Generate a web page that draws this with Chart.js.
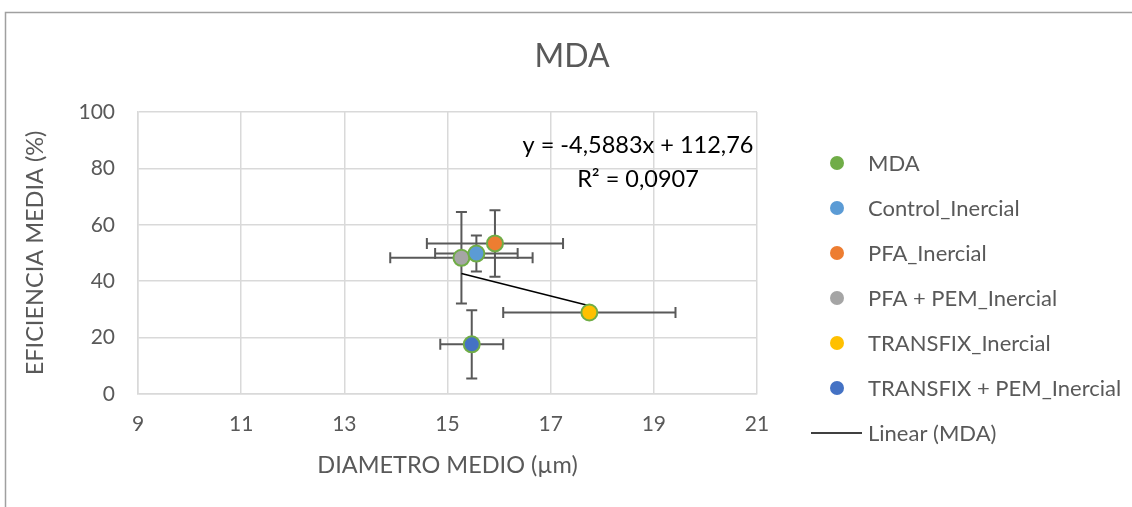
<!DOCTYPE html>
<html>
<head>
<meta charset="utf-8">
<script src="https://cdn.jsdelivr.net/npm/chart.js@4.4.0/dist/chart.umd.min.js"></script>
<style>
  html, body { margin: 0; padding: 0; background: #fff; }
  #wrap { width: 1132px; height: 507px; position: relative; }
</style>
</head>
<body>
<div id="wrap"><canvas id="mdaChart" width="1132" height="507"></canvas></div>
<script>
  // Data
  const seriesName = 'MDA';
  const categories = ['Control_Inercial', 'PFA_Inercial', 'PFA + PEM_Inercial', 'TRANSFIX_Inercial', 'TRANSFIX + PEM_Inercial'];
  const diameter = [15.56, 15.92, 15.27, 17.75, 15.47];
  const efficiency = [49.8, 53.4, 48.3, 28.9, 17.6];
  const diameterErr = [0.80, 1.32, 1.38, 1.67, 0.61];
  const efficiencyErr = [6.4, 11.8, 16.2, 0, 12.1];
  const trendX = [15.27, 17.75];
  const trendY = [42.7, 31.3];
  const trendText = ['y = -4,5883x + 112,76', 'R² = 0,0907'];
  const xTicks = [9, 11, 13, 15, 17, 19, 21];
  const yTicks = [0, 20, 40, 60, 80, 100];

  const colors = ['#5B9BD5', '#ED7D31', '#A5A5A5', '#FFC000', '#4472C4'];
  const green = '#70AD47';
  const textColor = '#595959';
  const font = 'Lato';

  const datasets = categories.map((name, i) => ({
    type: 'scatter',
    label: name,
    data: [{ x: diameter[i], y: efficiency[i] }],
    backgroundColor: colors[i],
    borderColor: green,
    borderWidth: 2,
    pointRadius: 8,
    pointHoverRadius: 8,
    order: i
  }));
  datasets.push({
    type: 'line',
    label: 'Linear (MDA)',
    data: trendX.map((x, i) => ({ x: x, y: trendY[i] })),
    borderColor: '#000',
    borderWidth: 1.5,
    pointRadius: 0,
    fill: false,
    order: 20
  });

  // frame, title, error bars, trend label and legend
  const extras = {
    id: 'extras',
    beforeDraw(chart) {
      const c = chart.ctx;
      c.save();
      c.strokeStyle = '#a0a0a0';
      c.lineWidth = 1.5;
      c.beginPath();
      c.moveTo(5.5, 507);
      c.lineTo(5.5, 12.5);
      c.lineTo(1132, 12.5);
      c.stroke();
      c.fillStyle = textColor;
      c.font = '32px ' + font;
      c.textAlign = 'center';
      c.textBaseline = 'middle';
      c.fillText(seriesName, 572, 57);
      c.restore();
    },
    beforeDatasetsDraw(chart) {
      const c = chart.ctx;
      const xs = chart.scales.x, ys = chart.scales.y;
      const cap = 5.5;
      c.save();
      c.strokeStyle = '#595959';
      c.lineWidth = 2;
      categories.forEach((_, i) => {
        const px = xs.getPixelForValue(diameter[i]);
        const py = ys.getPixelForValue(efficiency[i]);
        if (diameterErr[i] > 0) {
          const l = xs.getPixelForValue(diameter[i] - diameterErr[i]);
          const r = xs.getPixelForValue(diameter[i] + diameterErr[i]);
          c.beginPath();
          c.moveTo(l, py); c.lineTo(r, py);
          c.moveTo(l, py - cap); c.lineTo(l, py + cap);
          c.moveTo(r, py - cap); c.lineTo(r, py + cap);
          c.stroke();
        }
        if (efficiencyErr[i] > 0) {
          const t = ys.getPixelForValue(efficiency[i] + efficiencyErr[i]);
          const b = ys.getPixelForValue(efficiency[i] - efficiencyErr[i]);
          c.beginPath();
          c.moveTo(px, t); c.lineTo(px, b);
          c.moveTo(px - cap, t); c.lineTo(px + cap, t);
          c.moveTo(px - cap, b); c.lineTo(px + cap, b);
          c.stroke();
        }
      });
      c.restore();
    },
    afterDraw(chart) {
      const c = chart.ctx;
      c.save();
      c.fillStyle = '#000';
      c.font = '23.5px ' + font;
      c.textAlign = 'center';
      c.textBaseline = 'middle';
      c.fillText(trendText[0], 638, 145);
      c.fillText(trendText[1], 638, 179);

      // legend
      const items = [{ label: seriesName, color: green }]
        .concat(categories.map((n, i) => ({ label: n, color: colors[i] })));
      c.font = '22px ' + font;
      c.textAlign = 'left';
      items.forEach((it, i) => {
        const y = 163 + i * 45;
        c.beginPath();
        c.arc(837, y, 7, 0, Math.PI * 2);
        c.fillStyle = it.color;
        c.fill();
        c.fillStyle = textColor;
        c.fillText(it.label, 868, y + 1);
      });
      const ly = 163 + items.length * 45;
      c.strokeStyle = '#000';
      c.lineWidth = 1.5;
      c.beginPath();
      c.moveTo(811, ly); c.lineTo(862, ly);
      c.stroke();
      c.fillStyle = textColor;
      c.fillText('Linear (MDA)', 868, ly + 1);
      c.restore();
    }
  };

  const ctx = document.getElementById('mdaChart').getContext('2d');
  const mdaChart = new Chart(ctx, {
    data: { datasets: datasets },
    options: {
      responsive: false,
      animation: false,
      events: [],
      layout: { padding: { left: 0, right: 375, top: 112, bottom: 0 } },
      plugins: {
        legend: { display: false },
        tooltip: { enabled: false },
        title: { display: false }
      },
      scales: {
        x: {
          type: 'linear',
          min: 9,
          max: 21,
          afterBuildTicks: (s) => { s.ticks = xTicks.map(v => ({ value: v })); },
          afterFit: (s) => { s.height = 113; },
          grid: { color: '#d9d9d9', lineWidth: 1.5, drawTicks: false },
          border: { color: '#d9d9d9', width: 1.5 },
          ticks: { color: textColor, font: { family: font, size: 21 }, padding: 18 },
          title: {
            display: true,
            text: 'DIAMETRO MEDIO (µm)',
            color: textColor,
            font: { family: font, size: 23.5 },
            padding: { top: 0, bottom: 27 }
          }
        },
        y: {
          type: 'linear',
          min: 0,
          max: 100,
          afterBuildTicks: (s) => { s.ticks = yTicks.map(v => ({ value: v })); },
          afterFit: (s) => { s.width = 138; },
          grid: { color: '#d9d9d9', lineWidth: 1.5, drawTicks: false },
          border: { color: '#d9d9d9', width: 1.5 },
          ticks: { color: textColor, font: { family: font, size: 21 }, padding: 23 },
          title: {
            display: true,
            text: 'EFICIENCIA MEDIA (%)',
            color: textColor,
            font: { family: font, size: 23.5 },
            padding: { top: 21, bottom: 0 }
          }
        }
      }
    },
    plugins: [extras]
  });
</script>
</body>
</html>
